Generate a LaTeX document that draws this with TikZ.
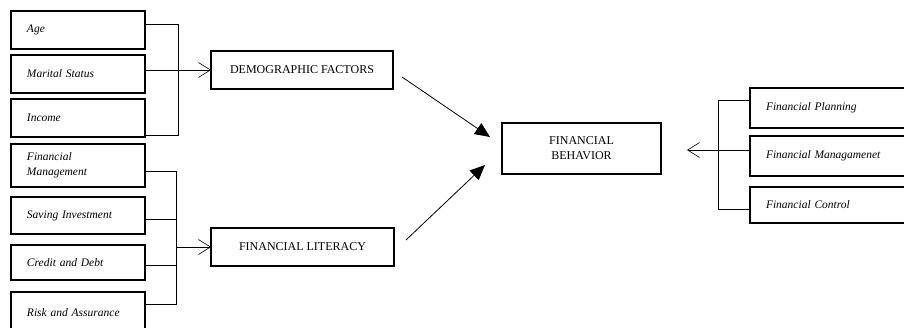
\documentclass[tikz,border=0pt]{standalone}
\usepackage{fontspec}
\setmainfont{Liberation Serif}
\usetikzlibrary{arrows.meta,calc}
\tikzset{
  box/.style={draw, line width=1.3pt, inner ysep=0pt, inner xsep=0pt, outer sep=0pt},
  leftbox/.style={box, minimum width=134pt, text width=102pt, align=left, font=\fontsize{11.5}{15}\selectfont\itshape},
  rightbox/.style={box, minimum width=170pt, text width=138pt, align=left, font=\fontsize{11.5}{15}\selectfont\itshape},
  midbox/.style={box, align=center, font=\fontsize{12}{15}\selectfont},
  conn/.style={line width=0.6pt},
  openarrow/.style={conn, -{Straight Barb[length=12pt,width=15pt]}},
  fillarrow/.style={line width=0.8pt, -{Triangle[length=15pt,width=13pt]}}
}
\begin{document}
\begin{tikzpicture}[x=1pt,y=-1pt]
\useasboundingbox (0,0) rectangle (904,328);
\clip (0,0) rectangle (904,328);
% left boxes
\node[leftbox, minimum height=38pt] (age) at (78,30) {Age};
\node[leftbox, minimum height=38pt] (marital) at (78,74) {Marital Status};
\node[leftbox, minimum height=38pt] (income) at (78,118) {Income};
\node[leftbox, minimum height=43pt] (finmgmt) at (78,165.5) {Financial\\Management};
\node[leftbox, minimum height=37pt] (saving) at (78,215.5) {Saving Investment};
\node[leftbox, minimum height=35pt] (credit) at (78,262.5) {Credit and Debt};
\node[leftbox, minimum height=42pt] (risk) at (78,313) {Risk and Assurance};
% middle boxes
\node[midbox, minimum width=182pt, minimum height=38pt] (dem) at (302,70) {DEMOGRAPHIC FACTORS};
\node[midbox, minimum width=183pt, minimum height=38pt] (lit) at (302.5,247) {FINANCIAL LITERACY};
\node[midbox, minimum width=159pt, minimum height=51pt] (fb) at (581.5,148.5) {FINANCIAL\\BEHAVIOR};
% right boxes
\node[rightbox, minimum height=40pt] (fp) at (835,108) {Financial Planning};
\node[rightbox, minimum height=40pt] (fmg) at (835,156) {Financial Managamenet};
\node[rightbox, minimum height=36pt] (fc) at (835,205) {Financial Control};
% bracket 1
\coordinate (b1t) at (178,24);
\coordinate (b1b) at (178,135);
\draw[conn] (age.east |- b1t) -- (b1t) -- (b1b) -- (income.east |- b1b);
\draw[openarrow] (marital.east |- dem.west) -- (dem.west);
% bracket 2
\coordinate (b2t) at (176,171);
\coordinate (b2b) at (176,304);
\coordinate (b2s) at (176,219);
\coordinate (b2c) at (176,265);
\draw[conn] (finmgmt.east |- b2t) -- (b2t) -- (b2b) -- (risk.east |- b2b);
\draw[conn] (saving.east |- b2s) -- (b2s);
\draw[conn] (credit.east |- b2c) -- (b2c);
\draw[openarrow] (b2s |- lit.west) -- (lit.west);
% right bracket
\coordinate (b3t) at (718,100);
\coordinate (b3b) at (718,209);
\coordinate (b3tip) at (687,150);
\draw[conn] (fp.west |- b3t) -- (b3t) -- (b3b) -- (fc.west |- b3b);
\draw[openarrow] (fmg.west |- b3tip) -- (b3tip);
% arrows into behavior
\draw[fillarrow] ($(dem.east)+(9,7)$) -- ($(fb.west)+(-12,-11.5)$);
\draw[fillarrow] ($(lit.east)+(12,-7)$) -- ($(fb.west)+(-17,16.5)$);
\end{tikzpicture}
\end{document}
